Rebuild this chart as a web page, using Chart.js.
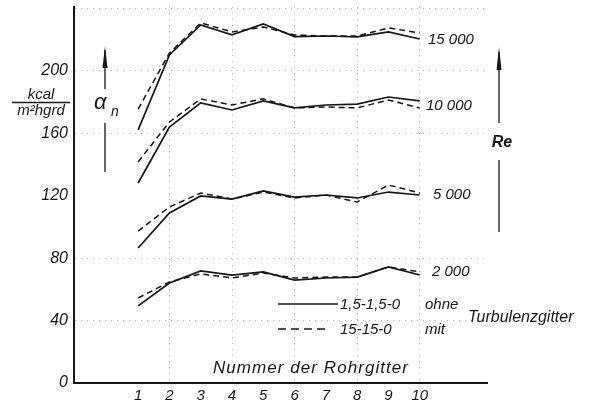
<!DOCTYPE html>
<html><head><meta charset="utf-8">
<script src="https://cdn.jsdelivr.net/npm/chart.js@4.4.0/dist/chart.umd.min.js"></script>
<style>html,body{margin:0;padding:0;background:#fff;}#wrap{width:594px;height:404px;position:relative;}</style>
</head><body><div id="wrap"><canvas id="c" width="594" height="404"></canvas></div>
<script>
// ---- data ----
const tubeRows = [1, 2, 3, 4, 5, 6, 7, 8, 9, 10];
const yTickValues = [0, 40, 80, 120, 160, 200, 240];
const yTickLabels = ['0', '40', '80', '120', '160', '200', ''];
const xGridRows = [2, 4, 6, 8, 10];
const yGridValues = [40, 80, 160, 200, 240];

const re15000Ohne = [162.2, 210.3, 229.5, 223.1, 230.1, 222.0, 222.4, 221.8, 225.0, 220.5];
const re15000Mit  = [175.6, 211.5, 230.8, 225.0, 228.2, 223.1, 222.4, 222.4, 227.6, 224.4];
const re10000Ohne = [128.2, 164.1, 179.5, 175.0, 180.8, 176.3, 178.2, 178.8, 183.3, 180.8];
const re10000Mit  = [141.7, 167.3, 182.1, 178.2, 182.1, 176.3, 176.9, 176.3, 181.4, 176.3];
const re5000Ohne  = [86.5, 109.0, 119.9, 117.9, 123.1, 119.2, 120.5, 118.6, 122.4, 120.5];
const re5000Mit   = [97.4, 112.8, 121.8, 117.9, 122.4, 118.6, 120.5, 116.0, 126.9, 121.8];
const re2000Ohne  = [49.4, 64.1, 71.8, 69.2, 71.2, 66.0, 67.3, 67.9, 74.4, 69.2];
const re2000Mit   = [54.5, 64.7, 69.9, 67.3, 70.5, 67.3, 67.9, 67.9, 74.4, 71.2];

const reLabels = ['15 000', '10 000', '5 000', '2 000'];
const legendOhne = '1,5-1,5-0';
const legendMit = '15-15-0';

// ---- chart ----
const INK = '#161616';
const FONT = '"Liberation Sans", Arial, sans-serif';
const toPts = arr => arr.map((v, i) => ({ x: tubeRows[i], y: v }));
const mk = (label, arr, dashed) => ({
  label, data: toPts(arr), borderColor: INK, backgroundColor: INK,
  borderWidth: dashed ? 1.5 : 1.7, borderDash: dashed ? [6, 4] : [],
  pointRadius: 0, tension: 0, fill: false
});

const annot = {
  id: 'annot',
  afterDraw(chart) {
    const ctx = chart.ctx;
    ctx.save();
    ctx.fillStyle = INK; ctx.strokeStyle = INK;
    ctx.textBaseline = 'middle'; ctx.textAlign = 'left';
    ctx.font = 'italic 15px ' + FONT;
    const rp = [[428, 40], [426, 106], [433, 195], [432, 272]];
    reLabels.forEach((t, i) => ctx.fillText(t, rp[i][0], rp[i][1]));

    // y-axis unit fraction
    ctx.textAlign = 'center';
    ctx.font = 'italic 15px ' + FONT;
    ctx.fillText('kcal', 41, 95);
    ctx.fillText('m\u00B2hgrd', 41, 111);
    ctx.lineWidth = 1.5;
    ctx.beginPath(); ctx.moveTo(12, 102.5); ctx.lineTo(70, 102.5); ctx.stroke();

    // alpha_n with arrow
    ctx.lineWidth = 1.3;
    ctx.beginPath(); ctx.moveTo(105, 50); ctx.lineTo(105, 89); ctx.stroke();
    ctx.beginPath(); ctx.moveTo(105, 46); ctx.lineTo(107.5, 68); ctx.lineTo(102.5, 68); ctx.closePath(); ctx.fill();
    ctx.beginPath(); ctx.moveTo(105, 123); ctx.lineTo(105, 172); ctx.stroke();
    ctx.textAlign = 'left';
    ctx.font = 'italic 22px ' + FONT;
    ctx.fillText('\u03B1', 94, 103);
    ctx.font = 'italic 14px ' + FONT;
    ctx.fillText('n', 111, 112);

    // Re with arrow
    ctx.beginPath(); ctx.moveTo(499, 52); ctx.lineTo(499, 123); ctx.stroke();
    ctx.beginPath(); ctx.moveTo(499, 47); ctx.lineTo(501.5, 70); ctx.lineTo(496.5, 70); ctx.closePath(); ctx.fill();
    ctx.beginPath(); ctx.moveTo(499, 160); ctx.lineTo(499, 232); ctx.stroke();
    ctx.textAlign = 'center';
    ctx.font = 'bold italic 16px ' + FONT;
    ctx.fillText('Re', 502, 143);

    // axis title with letter spacing
    ctx.font = 'italic 17px ' + FONT;
    ctx.textAlign = 'left';
    const title = 'Nummer der Rohrgitter';
    const x0 = 213, target = 195;
    const w = ctx.measureText(title).width;
    const sp = (target - w) / (title.length - 1);
    let cx = x0;
    for (const ch of title) { ctx.fillText(ch, cx, 368); cx += ctx.measureText(ch).width + sp; }

    // legend
    ctx.lineWidth = 1.5;
    ctx.beginPath(); ctx.moveTo(278, 304); ctx.lineTo(338, 304); ctx.stroke();
    ctx.setLineDash([8, 5]);
    ctx.beginPath(); ctx.moveTo(278, 329); ctx.lineTo(328, 329); ctx.stroke();
    ctx.setLineDash([]);
    ctx.font = 'italic 15px ' + FONT;
    ctx.fillText(legendOhne, 340, 305);
    ctx.fillText('ohne', 425, 305);
    ctx.fillText(legendMit, 340, 330);
    ctx.fillText('mit', 425, 330);
    ctx.font = 'italic 16px ' + FONT;
    ctx.fillText('Turbulenzgitter', 468, 318);
    ctx.restore();
  }
};

new Chart(document.getElementById('c'), {
  type: 'line',
  data: {
    datasets: [
      mk('15000 ohne', re15000Ohne, false), mk('15000 mit', re15000Mit, true),
      mk('10000 ohne', re10000Ohne, false), mk('10000 mit', re10000Mit, true),
      mk('5000 ohne', re5000Ohne, false), mk('5000 mit', re5000Mit, true),
      mk('2000 ohne', re2000Ohne, false), mk('2000 mit', re2000Mit, true)
    ]
  },
  options: {
    responsive: false, animation: false, devicePixelRatio: 1,
    layout: { padding: { left: 0, top: 7, right: 107, bottom: 0 } },
    plugins: { legend: { display: false }, tooltip: { enabled: false } },
    scales: {
      x: {
        type: 'linear', min: -1.05, max: 12.15,
        afterBuildTicks: s => { s.ticks = tubeRows.map(v => ({ value: v })); },
        afterFit: s => { s.height = 21; s.paddingLeft = 0; s.paddingRight = 0; },
        ticks: { font: { family: FONT, size: 15, style: 'italic' }, color: INK, padding: 4, maxRotation: 0, autoSkip: false },
        grid: { drawTicks: false, lineWidth: 1, color: c => (c.tick && xGridRows.includes(c.tick.value)) ? '#b0b0b0' : 'rgba(0,0,0,0)' },
        border: { color: INK, width: 2, dash: [1, 5] }
      },
      y: {
        min: 0, max: 241,
        afterBuildTicks: s => { s.ticks = yTickValues.map(v => ({ value: v })); },
        afterFit: s => { s.width = 74; s.paddingTop = 0; s.paddingBottom = 0; },
        ticks: {
          font: { family: FONT, size: 16, style: 'italic' }, color: INK, padding: 6,
          callback: v => yTickLabels[yTickValues.indexOf(v)]
        },
        grid: { drawTicks: false, lineWidth: 1, color: c => (c.tick && yGridValues.includes(c.tick.value)) ? '#b0b0b0' : 'rgba(0,0,0,0)' },
        border: { color: INK, width: 2, dash: [1, 5] }
      }
    }
  },
  plugins: [annot]
});
</script></body></html>
